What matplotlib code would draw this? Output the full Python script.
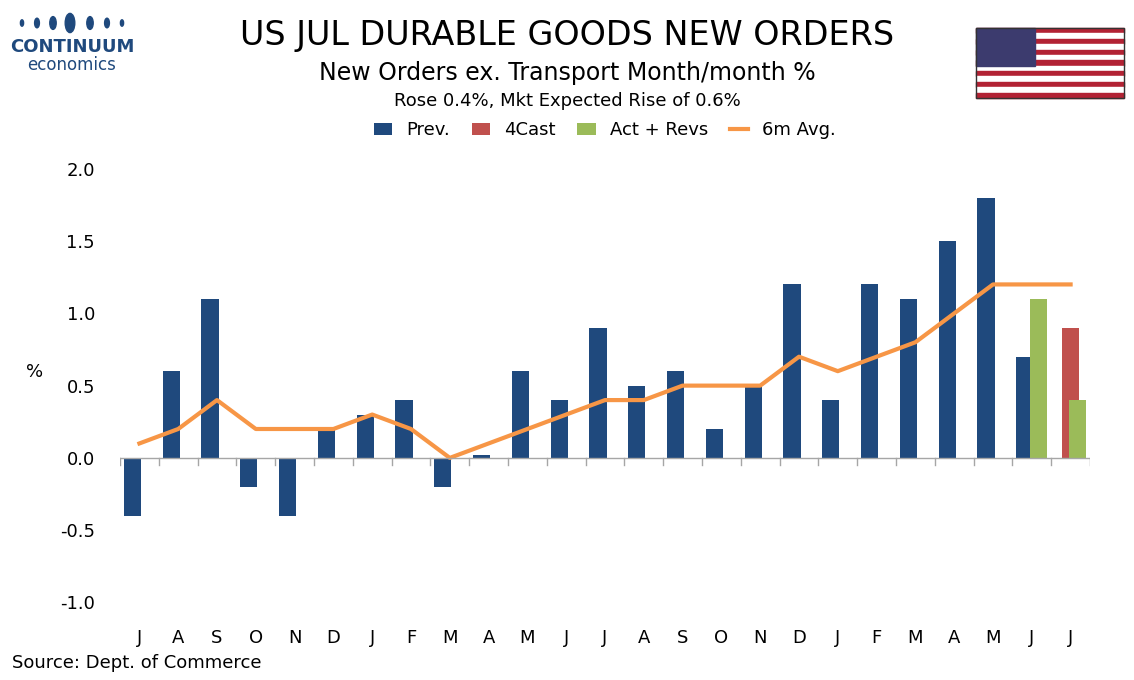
import matplotlib
matplotlib.use("Agg")
import matplotlib.pyplot as plt
import numpy as np
from matplotlib.patches import Rectangle, Ellipse

months = ["J","A","S","O","N","D","J","F","M","A","M","J","J","A","S","O","N","D","J","F","M","A","M","J","J"]
prev = [-0.4,0.6,1.1,-0.2,-0.4,0.2,0.3,0.4,-0.2,0.02,0.6,0.4,0.9,0.5,0.6,0.2,0.5,1.2,0.4,1.2,1.1,1.5,1.8,0.7,np.nan]
fcast = [np.nan]*24 + [0.9]
act = [np.nan]*23 + [1.1,0.4]
avg6 = [0.1,0.2,0.4,0.2,0.2,0.2,0.3,0.2,0.0,0.1,0.2,0.3,0.4,0.4,0.5,0.5,0.5,0.7,0.6,0.7,0.8,1.0,1.2,1.2,1.2]

plt.rcParams['font.family'] = ['Verdana', 'DejaVu Sans']
fig = plt.figure(figsize=(11.34,6.8), dpi=100)
W, H = 1134, 680
ax = fig.add_axes([120/W, 1-612/H, (1090-120)/W, (612-150)/H])
x = np.arange(len(months))
navy, red, green, orange = "#1f497d", "#c0504d", "#9bbb59", "#f79646"
ax.bar(x-0.18, prev, 0.44, color=navy, label="Prev.")
ax.bar(x, fcast, 0.44, color=red, label="4Cast")
ax.bar(x+0.18, act, 0.44, color=green, label="Act + Revs")
ax.plot(x, avg6, color=orange, lw=3, label="6m Avg.")
ax.set_xlim(-0.5, len(months)-0.5)
ax.set_ylim(-1.066, 2.13)
yt = np.arange(-1.0, 2.01, 0.5)
ax.set_yticks(yt)
ax.set_yticklabels([f"{v:.1f}" for v in yt], fontsize=13)
for s in ["top","right","left","bottom"]:
    ax.spines[s].set_visible(False)
ax.tick_params(axis='y', length=0, pad=18)
ax.axhline(0, color="#a6a6a6", lw=1)
for b in np.arange(-0.5, len(months), 1):
    ax.plot([b,b],[0,-0.05], color="#a6a6a6", lw=1)
ax.set_xticks(x)
ax.set_xticklabels(months, fontsize=13)
ax.tick_params(axis='x', length=0, pad=12)
ax.set_ylabel("%", fontsize=13, rotation=0, labelpad=18)
h, l = ax.get_legend_handles_labels()
order = [1, 2, 3, 0]
ax.legend([h[i] for i in order], [l[i] for i in order], loc="lower center", bbox_to_anchor=(0.5, 1.0),
          ncol=4, frameon=False, fontsize=13, handlelength=1.0, columnspacing=1.2, borderaxespad=0.2)

fig.text(0.5, 1-35/H, "US JUL DURABLE GOODS NEW ORDERS", ha="center", va="center", fontsize=24)
fig.text(0.5, 1-73/H, "New Orders ex. Transport Month/month %", ha="center", va="center", fontsize=17)
fig.text(0.5, 1-101/H, "Rose 0.4%, Mkt Expected Rise of 0.6%", ha="center", va="center", fontsize=13)
fig.text(12/W, 1-663/H, "Source: Dept. of Commerce", ha="left", va="center", fontsize=13)

# logo
fig.text(72/W, 1-47/H, "CONTINUUM", ha="center", va="center", fontsize=13, color="#1f497d", weight="bold")
fig.text(72/W, 1-65/H, "economics", ha="center", va="center", fontsize=12, color="#1f497d")
for px, r in [(22,2),(37,3),(53,4),(70,6),(90,4),(107,3),(122,2)]:
    fig.patches.append(Ellipse((px/W, 1-23/H), 2*r/W*0.8, 2*r*1.6/H, transform=fig.transFigure, color="#1f497d"))

# flag
fx, fy, fw, fh = 976, 28, 148, 70
for i in range(13):
    c = "#b22234" if i % 2 == 0 else "white"
    fig.patches.append(Rectangle((fx/W, 1-(fy+(i+1)*fh/13)/H), fw/W, fh/13/H, transform=fig.transFigure, color=c))
fig.patches.append(Rectangle((fx/W, 1-(fy+fh*7/13)/H), fw*0.4/W, fh*7/13/H, transform=fig.transFigure, color="#3c3b6e"))
fig.patches.append(Rectangle((fx/W, 1-(fy+fh)/H), fw/W, fh/H, transform=fig.transFigure, fill=False, ec="#333333", lw=1))

fig.savefig("out.png", dpi=100)
